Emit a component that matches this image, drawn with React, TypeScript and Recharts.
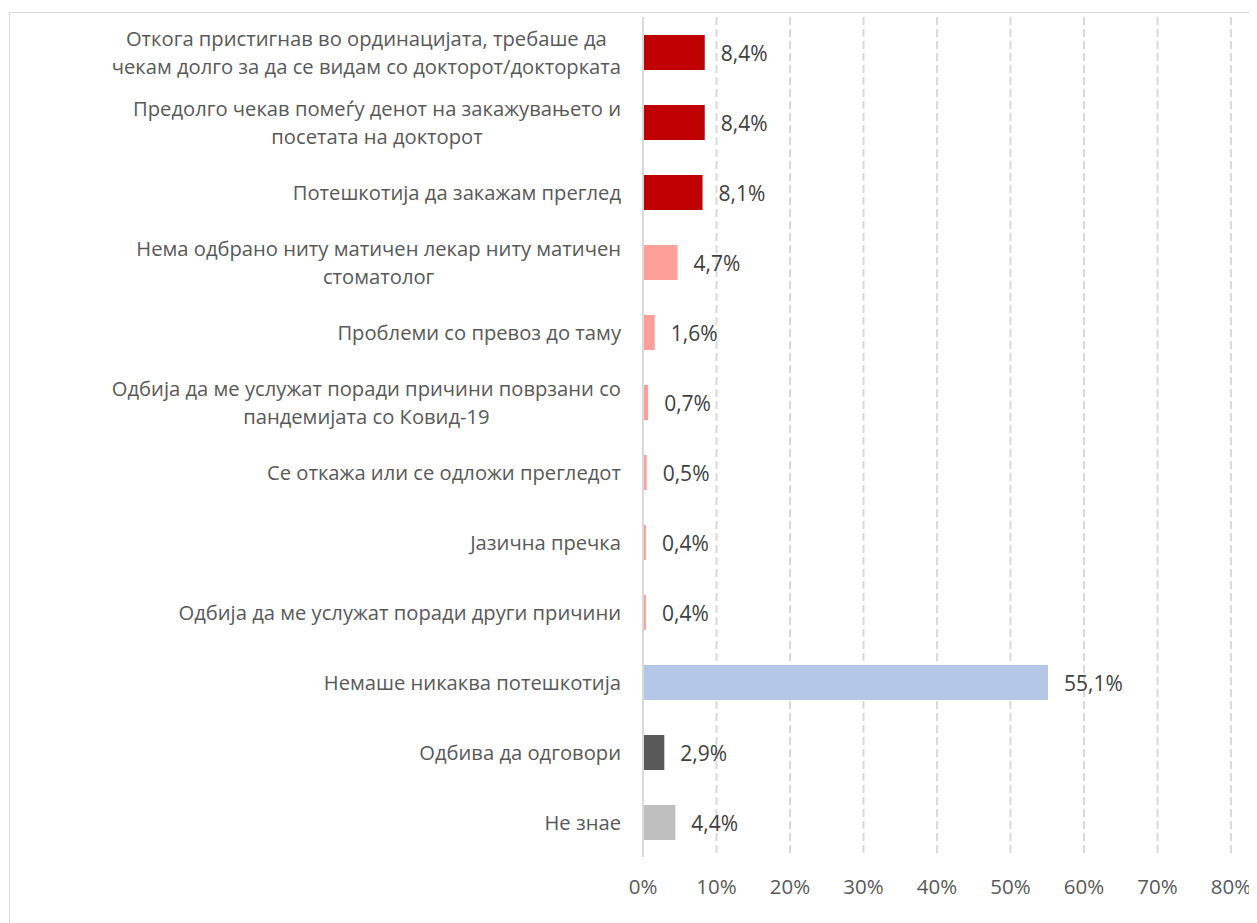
import React from "react";
import { BarChart, Bar, XAxis, YAxis, CartesianGrid, Cell, LabelList } from "recharts";

const categories = [
  "Откога пристигнав во ординацијата, требаше да\nчекам долго за да се видам со докторот/докторката",
  "Предолго чекав помеѓу денот на закажувањето и\nпосетата на докторот",
  "Потешкотија да закажам преглед",
  "Нема одбрано ниту матичен лекар ниту матичен\nстоматолог",
  "Проблеми со превоз до таму",
  "Одбија да ме услужат поради причини поврзани со\nпандемијата со Ковид-19",
  "Се откажа или се одложи прегледот",
  "Јазична пречка",
  "Одбија да ме услужат поради други причини",
  "Немаше никаква потешкотија",
  "Одбива да одговори",
  "Не знае",
];
const values = [8.4, 8.4, 8.1, 4.7, 1.6, 0.7, 0.5, 0.4, 0.4, 55.1, 2.9, 4.4];
const colors = [
  "#C00000", "#C00000", "#C00000",
  "#FF9F99", "#FF9F99", "#FF9F99", "#FF9F99", "#FF9F99", "#FF9F99",
  "#B4C7E7", "#595959", "#BFBFBF",
];
const xTicks = [0, 10, 20, 30, 40, 50, 60, 70, 80];

const data = categories.map((c, i) => ({ name: c, value: values[i] }));

const FONT = "'Open Sans', sans-serif";
const CAT_SIZE = 20.2;

let ctx: CanvasRenderingContext2D | null = null;
function measure(s: string): number {
  if (!ctx) {
    const c = document.createElement("canvas");
    ctx = c.getContext("2d");
  }
  if (!ctx) return s.length * 10;
  ctx.font = `${CAT_SIZE}px 'Open Sans'`;
  return ctx.measureText(s).width;
}

const CategoryTick = (props: any) => {
  const { x, y, payload } = props;
  const lines = String(payload.value).split("\n");
  const lh = 27.5;
  const right = x - 14;
  const start = -((lines.length - 1) * lh) / 2;
  const maxW = Math.max(...lines.map(measure));
  const cx = right - maxW / 2;
  const multi = lines.length > 1;
  return (
    <text
      x={multi ? cx : right}
      y={y}
      textAnchor={multi ? "middle" : "end"}
      fill="#595959"
      fontSize={CAT_SIZE}
      fontFamily={FONT}
    >
      {lines.map((l, i) => (
        <tspan key={i} x={multi ? cx : right} y={y + start + i * lh} dominantBaseline="central">
          {l}
        </tspan>
      ))}
    </text>
  );
};

const PercentTick = (props: any) => {
  const { x, y, payload } = props;
  return (
    <text x={x} y={y + 21} textAnchor="middle" fill="#595959" fontSize={20.5} fontFamily={FONT} dominantBaseline="central">
      {payload.value}%
    </text>
  );
};

const ValueLabel = (props: any) => {
  const { x, y, width, height, value } = props;
  return (
    <text x={x + width + 16} y={y + height / 2} fill="#404040" fontSize={21} fontFamily={FONT} dominantBaseline="central">
      {String(value.toFixed(1)).replace(".", ",")}%
    </text>
  );
};

export default function App() {
  return (
    <div
      style={{
        marginTop: 4,
        marginLeft: 1,
        width: 1262,
        height: 930,
        border: "1px solid #D9D9D9",
        borderRight: "none",
        borderBottom: "none",
        boxSizing: "border-box",
        background: "#fff",
      }}
    >
      <style>{`html,body{overflow:hidden} .recharts-surface{overflow:visible}`}</style>
      <BarChart
        width={1245}
        height={906}
        data={data}
        layout="vertical"
        margin={{ top: 4, right: 24, bottom: 12, left: 0 }}
        barCategoryGap={0}
      >
        <CartesianGrid horizontal={false} vertical={true} stroke="#D9D9D9" strokeWidth={2} strokeDasharray="8 4" />
        <XAxis
          type="number"
          domain={[0, 80]}
          ticks={xTicks}
          tick={<PercentTick />}
          tickLine={false}
          axisLine={false}
          height={50}
          interval={0}
        />
        <YAxis
          type="category"
          dataKey="name"
          width={633}
          tick={<CategoryTick />}
          tickLine={false}
          axisLine={{ stroke: "#D9D9D9", strokeWidth: 2 }}
          interval={0}
        />
        <Bar dataKey="value" barSize={35} isAnimationActive={false}>
          {data.map((d, i) => (
            <Cell key={i} fill={colors[i]} />
          ))}
          <LabelList dataKey="value" content={<ValueLabel />} />
        </Bar>
      </BarChart>
    </div>
  );
}
